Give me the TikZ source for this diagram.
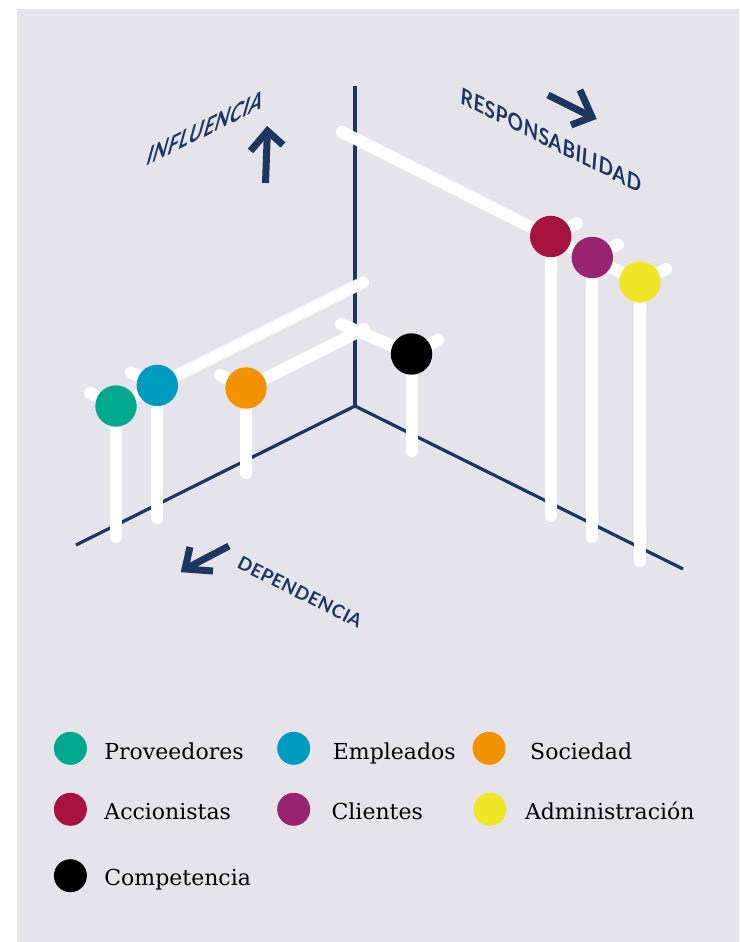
\documentclass[tikz,border=0pt]{standalone}
\usepackage{fontspec}
\usetikzlibrary{calc}
\setmainfont{DejaVu Serif}
\newfontfamily\axisfont[LetterSpace=3]{Lato}
\definecolor{bgc}{HTML}{E5E4EB}
\definecolor{navy}{HTML}{1D3561}
\definecolor{cgreen}{HTML}{00A88E}
\definecolor{cblue}{HTML}{009BC0}
\definecolor{corange}{HTML}{F39200}
\definecolor{cred}{HTML}{A8123E}
\definecolor{cpurple}{HTML}{982471}
\definecolor{cyellow}{HTML}{F0E526}
\begin{document}
\begin{tikzpicture}[x=1pt,y=-1pt,
  axisline/.style={navy, line width=3.2pt},
  bar/.style={white, line width=12pt, line cap=round},
  dot/.style={circle, inner sep=0pt, minimum size=41.4pt, draw=none},
  ldot/.style={circle, inner sep=0pt, minimum size=33pt, draw=none},
  arrowline/.style={navy, line width=7pt, line join=miter},
  axlabel/.style={navy, font=\axisfont\bfseries\fontsize{21}{21}\selectfont, inner sep=0pt},
  legtext/.style={anchor=base west, inner sep=0pt, font=\fontsize{22}{24}\selectfont}]
\useasboundingbox (0,0) rectangle (739,942);
\fill[white] (0,0) rectangle (739,942);
\fill[bgc] (17,9) rectangle (739,942);

% axes
\coordinate (O) at (355,406);
\coordinate (V) at (355,86);
\coordinate (L) at (76,545);
\coordinate (R) at (683,569);
\draw[axisline] (V) -- (O);
\draw[axisline, line join=miter] (L) -- (O) -- (R);

% stakeholder positions
\coordinate (G) at (116,406);
\coordinate (B) at (157.3,385.4);
\coordinate (Or) at (246,388);
\coordinate (K) at (411.5,354);
\coordinate (Rd) at (550.7,236.5);
\coordinate (P) at (592.3,257.5);
\coordinate (Y) at (640,282);

% bar ends
\coordinate (Gs) at (90,393);
\coordinate (Bs) at (131,372.4);
\coordinate (Ge) at (363,282.5);
\coordinate (Os) at (220,375);
\coordinate (Oe) at (364,329);
\coordinate (Ke) at (341,324);
\coordinate (Ks) at (438,340);
\coordinate (Re) at (342,132);
\coordinate (Rs) at (577,223.5);
\coordinate (Ps) at (618,244.5);
\coordinate (Ys) at (666,269);

% post ends
\coordinate (Gb) at (116,537);
\coordinate (Bb) at (157.3,518);
\coordinate (Ob) at (246,473);
\coordinate (Kb) at (411.5,451);
\coordinate (Rb) at (550.7,516);
\coordinate (Pb) at (592.3,537);
\coordinate (Yb) at (640,561);

% white bars
\draw[bar] (Gs) -- (G) -- (Ge);
\draw[bar] (Bs) -- (B);
\draw[bar] (Os) -- (Or) -- (Oe);
\draw[bar] (Ke) -- (K) -- (Ks);
\draw[bar] (Re) -- (Y);
\draw[bar] (Rd) -- (Rs);
\draw[bar] (P) -- (Ps);
\draw[bar] (Y) -- (Ys);
% posts
\draw[bar] (G) -- (Gb);
\draw[bar] (B) -- (Bb);
\draw[bar] (Or) -- (Ob);
\draw[bar] (K) -- (Kb);
\draw[bar] (Rd) -- (Rb);
\draw[bar] (P) -- (Pb);
\draw[bar] (Y) -- (Yb);

% circles
\node[dot, fill=cblue] (nB) at (B) {};
\node[dot, fill=cgreen] (nG) at (G) {};
\node[dot, fill=corange] (nO) at (Or) {};
\node[dot, fill=black] (nK) at (K) {};
\node[dot, fill=cred] (nR) at (Rd) {};
\node[dot, fill=cpurple] (nP) at (P) {};
\node[dot, fill=cyellow] (nY) at (Y) {};

% direction arrows
\coordinate (iT) at (265.5,183);
\coordinate (iH) at (267.5,131);
\coordinate (iA) at (250.5,151);
\coordinate (iB) at (283,145);
\coordinate (iS) at (267.3,134);
\draw[arrowline] (iT) -- (iS);
\draw[arrowline] (iA) -- (iH) -- (iB);

\coordinate (rT) at (548,95);
\coordinate (rH) at (592,117);
\coordinate (rA) at (580,90);
\coordinate (rB) at (571,125);
\coordinate (rS) at (589,115.5);
\draw[arrowline] (rT) -- (rS);
\draw[arrowline] (rA) -- (rH) -- (rB);

\coordinate (dT) at (229,546);
\coordinate (dH) at (185,569);
\coordinate (dA) at (190,547);
\coordinate (dB) at (213,571);
\coordinate (dS) at (188,567.5);
\draw[arrowline] (dT) -- (dS);
\draw[arrowline] (dA) -- (dH) -- (dB);

% axis labels
\node[axlabel, rotate=26.57, xslant=0.9] (tInf) at (206,128) {INFLUENCIA};
\node[axlabel, rotate=-26.57, xslant=-0.4] (tRes) at (551,140) {RESPONSABILIDAD};
\node[axlabel, rotate=-26.57, font=\axisfont\bfseries\fontsize{18.5}{18.5}\selectfont] (tDep) at (300,592) {DEPENDENCIA};

% legend
\node[ldot, fill=cgreen] (l1) at (70.4,748.3) {};
\node[ldot, fill=cblue] (l2) at (293.7,748.3) {};
\node[ldot, fill=corange] (l3) at (489,748.3) {};
\node[ldot, fill=cred] (l4) at (70.4,809.3) {};
\node[ldot, fill=cpurple] (l5) at (293.7,809.3) {};
\node[ldot, fill=cyellow] (l6) at (490,809.3) {};
\node[ldot, fill=black] (l7) at (70.4,875.7) {};
\node[legtext] (t1) at (104.2,759.3) {Proveedores};
\node[legtext] (t2) at (332.7,759.3) {Empleados};
\node[legtext] (t3) at (530,759.3) {Sociedad};
\node[legtext] (t4) at (104.2,819.3) {Accionistas};
\node[legtext] (t5) at (331.4,819.3) {Clientes};
\node[legtext] (t6) at (524.8,819.3) {Administración};
\node[legtext] (t7) at (104.2,885.7) {Competencia};
\end{tikzpicture}
\end{document}
